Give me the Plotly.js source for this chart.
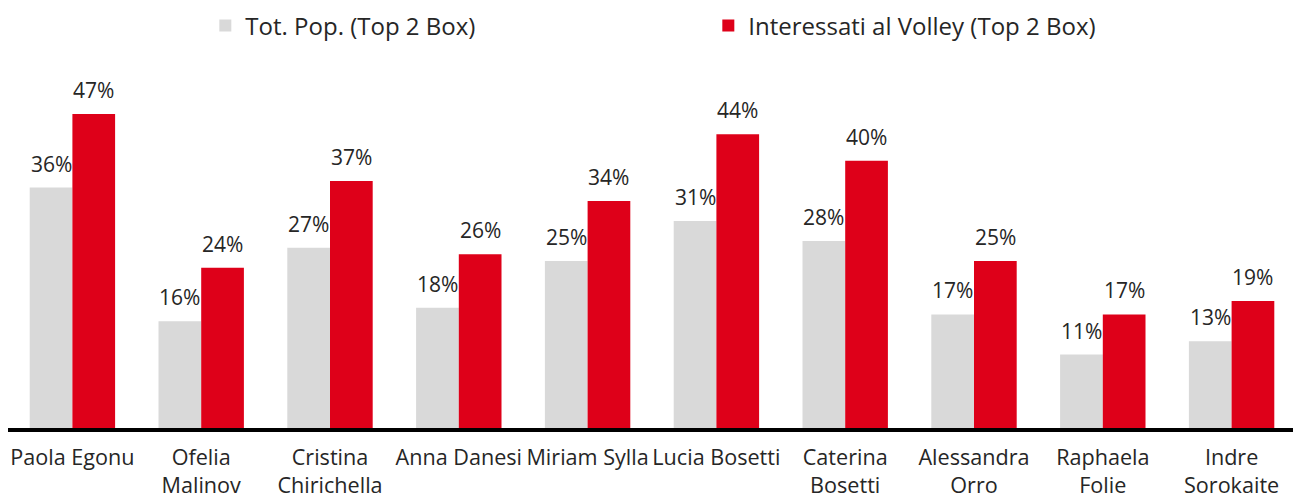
<!DOCTYPE html>
<html>
<head>
<meta charset="utf-8">
<script src="https://cdn.plot.ly/plotly-3.0.1.min.js"></script>
<style>
html,body{margin:0;padding:0;overflow:hidden;background:#fff;}
#chart{width:1296px;height:497px;}
</style>
</head>
<body>
<div id="chart"></div>
<script>
const categories = ["Paola Egonu","Ofelia<br>Malinov","Cristina<br>Chirichella","Anna Danesi","Miriam Sylla","Lucia Bosetti","Caterina<br>Bosetti","Alessandra<br>Orro","Raphaela<br>Folie","Indre<br>Sorokaite"];
const totPop = [36,16,27,18,25,31,28,17,11,13];
const volley = [47,24,37,26,34,44,40,25,17,19];
const seriesNames = ["Tot. Pop. (Top 2 Box)","Interessati al Volley (Top 2 Box)"];

const FONT = "Open Sans, Noto Sans, sans-serif";
const TXT = "#262626";
const GREY = "#d9d9d9";
const RED = "#de0019";
const bargap = 0.337;

const traces = [
  {type:"bar", name:seriesNames[0], x:categories, y:totPop, marker:{color:GREY}, hoverinfo:"skip"},
  {type:"bar", name:seriesNames[1], x:categories, y:volley, marker:{color:RED}, hoverinfo:"skip"}
];

const plotW = 1296 - 8 - 0;
const catW = plotW / categories.length;
const off = catW * (1 - bargap) / 4;

const annotations = [];
[totPop, volley].forEach((vals, si) => {
  vals.forEach((v, i) => {
    annotations.push({
      x: categories[i], y: v, xref:"x", yref:"y",
      text: v + "%", showarrow:false,
      xanchor:"center", yanchor:"bottom",
      xshift: si === 0 ? -off : off, yshift: 8,
      font:{family:FONT, size:21, color:TXT}
    });
  });
});

const layout = {
  width:1296, height:497,
  margin:{l:8, r:0, t:48, b:69, autoexpand:false},
  paper_bgcolor:"#fff", plot_bgcolor:"#fff",
  barmode:"group", bargap:bargap, bargroupgap:0,
  font:{family:FONT, size:21, color:TXT},
  showlegend:true,
  legend:{orientation:"h", x:0.1532, xanchor:"left", y:0.993, yanchor:"top", yref:"container",
          font:{family:FONT, size:24, color:TXT}, entrywidth:458, entrywidthmode:"pixels",
          traceorder:"normal", itemclick:false},
  xaxis:{type:"category", showline:true, linewidth:4, linecolor:"#000", ticks:"", showgrid:false,
         tickangle:0, automargin:false,
         tickfont:{family:FONT, size:21.6, color:TXT}, ticklabelstandoff:7, fixedrange:true},
  yaxis:{range:[0,56.9], visible:false, showgrid:false, zeroline:false, fixedrange:true},
  annotations:annotations
};

Plotly.newPlot("chart", traces, layout, {displayModeBar:false, staticPlot:true});
</script>
</body>
</html>
